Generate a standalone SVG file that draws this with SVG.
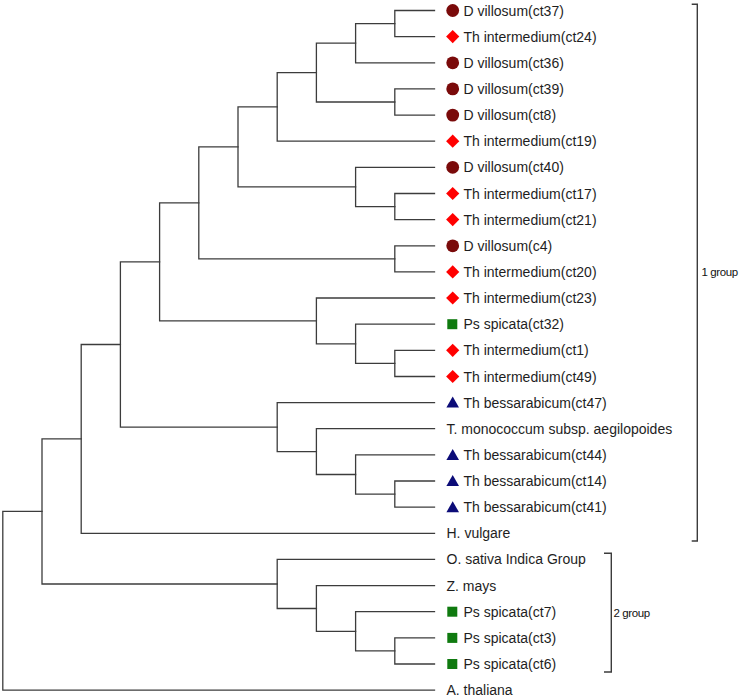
<svg xmlns="http://www.w3.org/2000/svg" width="744" height="697" viewBox="0 0 744 697">
<style>
.e{fill:none;stroke:#3c3c3c;stroke-width:1.3;stroke-linecap:square}
.t{font-family:"Liberation Sans",Arial,sans-serif;font-size:14px;fill:#1e1e1e}
.g{font-family:"Liberation Sans",Arial,sans-serif;font-size:11.5px;fill:#111111;letter-spacing:-0.4px}
.br{fill:none;stroke:#3c3c3c;stroke-width:1.4}
</style>
<defs>
<circle id="mc" r="6.4" fill="#7a0a0a"/>
<polygon id="md" points="0,-6.6 6.6,0 0,6.6 -6.6,0" fill="#ff0000"/>
<polygon id="mt" points="-6.3,5 6.3,5 0,-6" fill="#0c0c78"/>
<rect id="ms" x="-5" y="-5" width="10" height="10" fill="#0f7a0f"/>
</defs>
<rect width="744" height="697" fill="#ffffff"/>
<g id="connectors">
<path class="e" d="M394.8,10.5V36.6M394.8,10.5H434.5M394.8,36.6H434.5"/>
<path class="e" d="M355.6,23.6V62.8M355.6,23.6H394.8M355.6,62.8H434.5"/>
<path class="e" d="M394.8,88.9V115.1M394.8,88.9H434.5M394.8,115.1H434.5"/>
<path class="e" d="M316.4,43.2V102M316.4,43.2H355.6M316.4,102H394.8"/>
<path class="e" d="M277.2,72.6V141.2M277.2,72.6H316.4M277.2,141.2H434.5"/>
<path class="e" d="M394.8,193.5V219.6M394.8,193.5H434.5M394.8,219.6H434.5"/>
<path class="e" d="M355.6,167.3V206.6M355.6,167.3H434.5M355.6,206.6H394.8"/>
<path class="e" d="M238,106.9V186.9M238,106.9H277.2M238,186.9H355.6"/>
<path class="e" d="M394.8,245.8V271.9M394.8,245.8H434.5M394.8,271.9H434.5"/>
<path class="e" d="M198.8,146.9V258.8M198.8,146.9H238M198.8,258.8H394.8"/>
<path class="e" d="M394.8,350.3V376.5M394.8,350.3H434.5M394.8,376.5H434.5"/>
<path class="e" d="M355.6,324.2V363.4M355.6,324.2H434.5M355.6,363.4H394.8"/>
<path class="e" d="M316.4,298V343.8M316.4,298H434.5M316.4,343.8H355.6"/>
<path class="e" d="M159.6,202.9V320.9M159.6,202.9H198.8M159.6,320.9H316.4"/>
<path class="e" d="M394.8,481V507.2M394.8,481H434.5M394.8,507.2H434.5"/>
<path class="e" d="M355.6,454.9V494.1M355.6,454.9H434.5M355.6,494.1H394.8"/>
<path class="e" d="M316.4,428.7V474.5M316.4,428.7H434.5M316.4,474.5H355.6"/>
<path class="e" d="M277.2,402.6V451.6M277.2,402.6H434.5M277.2,451.6H316.4"/>
<path class="e" d="M120.4,261.9V427.1M120.4,261.9H159.6M120.4,427.1H277.2"/>
<path class="e" d="M81.2,344.5V533.3M81.2,344.5H120.4M81.2,533.3H434.5"/>
<path class="e" d="M394.8,637.9V664M394.8,637.9H434.5M394.8,664H434.5"/>
<path class="e" d="M355.6,611.7V650.9M355.6,611.7H434.5M355.6,650.9H394.8"/>
<path class="e" d="M316.4,585.6V631.3M316.4,585.6H434.5M316.4,631.3H355.6"/>
<path class="e" d="M277.2,559.4V608.5M277.2,559.4H434.5M277.2,608.5H316.4"/>
<path class="e" d="M42,438.9V584M42,438.9H81.2M42,584H277.2"/>
<path class="e" d="M2.8,511.4V690.1M2.8,511.4H42M2.8,690.1H434.5"/>
</g>
<g id="leaf-ct37"><use href="#mc" x="452.7" y="10.5"/><text class="t" x="463.5" y="15.5">D villosum(ct37)</text></g>
<g id="leaf-ct24"><use href="#md" x="452.7" y="36.6"/><text class="t" x="463.5" y="41.6">Th intermedium(ct24)</text></g>
<g id="leaf-ct36"><use href="#mc" x="452.7" y="62.8"/><text class="t" x="463.5" y="67.8">D villosum(ct36)</text></g>
<g id="leaf-ct39"><use href="#mc" x="452.7" y="88.9"/><text class="t" x="463.5" y="93.9">D villosum(ct39)</text></g>
<g id="leaf-ct8"><use href="#mc" x="452.7" y="115.1"/><text class="t" x="463.5" y="120.1">D villosum(ct8)</text></g>
<g id="leaf-ct19"><use href="#md" x="452.7" y="141.2"/><text class="t" x="463.5" y="146.2">Th intermedium(ct19)</text></g>
<g id="leaf-ct40"><use href="#mc" x="452.7" y="167.3"/><text class="t" x="463.5" y="172.3">D villosum(ct40)</text></g>
<g id="leaf-ct17"><use href="#md" x="452.7" y="193.5"/><text class="t" x="463.5" y="198.5">Th intermedium(ct17)</text></g>
<g id="leaf-ct21"><use href="#md" x="452.7" y="219.6"/><text class="t" x="463.5" y="224.6">Th intermedium(ct21)</text></g>
<g id="leaf-c4"><use href="#mc" x="452.7" y="245.8"/><text class="t" x="463.5" y="250.8">D villosum(c4)</text></g>
<g id="leaf-ct20"><use href="#md" x="452.7" y="271.9"/><text class="t" x="463.5" y="276.9">Th intermedium(ct20)</text></g>
<g id="leaf-ct23"><use href="#md" x="452.7" y="298"/><text class="t" x="463.5" y="303">Th intermedium(ct23)</text></g>
<g id="leaf-ct32"><use href="#ms" x="452.3" y="324.2"/><text class="t" x="463.5" y="329.2">Ps spicata(ct32)</text></g>
<g id="leaf-ct1"><use href="#md" x="452.7" y="350.3"/><text class="t" x="463.5" y="355.3">Th intermedium(ct1)</text></g>
<g id="leaf-ct49"><use href="#md" x="452.7" y="376.5"/><text class="t" x="463.5" y="381.5">Th intermedium(ct49)</text></g>
<g id="leaf-ct47"><use href="#mt" x="452.7" y="402.6"/><text class="t" x="463.5" y="407.6">Th bessarabicum(ct47)</text></g>
<g id="leaf-tmono"><text class="t" x="446.5" y="433.7">T. monococcum subsp. aegilopoides</text></g>
<g id="leaf-ct44"><use href="#mt" x="452.7" y="454.9"/><text class="t" x="463.5" y="459.9">Th bessarabicum(ct44)</text></g>
<g id="leaf-ct14"><use href="#mt" x="452.7" y="481"/><text class="t" x="463.5" y="486">Th bessarabicum(ct14)</text></g>
<g id="leaf-ct41"><use href="#mt" x="452.7" y="507.2"/><text class="t" x="463.5" y="512.2">Th bessarabicum(ct41)</text></g>
<g id="leaf-hvulgare"><text class="t" x="446.5" y="538.3">H. vulgare</text></g>
<g id="leaf-osativa"><text class="t" x="446.5" y="564.4">O. sativa Indica Group</text></g>
<g id="leaf-zmays"><text class="t" x="446.5" y="590.6">Z. mays</text></g>
<g id="leaf-ct7"><use href="#ms" x="452.3" y="611.7"/><text class="t" x="463.5" y="616.7">Ps spicata(ct7)</text></g>
<g id="leaf-ct3"><use href="#ms" x="452.3" y="637.9"/><text class="t" x="463.5" y="642.9">Ps spicata(ct3)</text></g>
<g id="leaf-ct6"><use href="#ms" x="452.3" y="664"/><text class="t" x="463.5" y="669">Ps spicata(ct6)</text></g>
<g id="leaf-athaliana"><text class="t" x="446.5" y="695.1">A. thaliana</text></g>
<g id="group1"><path class="br" d="M691.7,4.3H697.3V541H691.7"/><text class="g" x="701.5" y="275.8">1 group</text></g>
<g id="group2"><path class="br" d="M604,553.3H611.3V672H604"/><text class="g" x="613.5" y="616.8">2 group</text></g>
</svg>
